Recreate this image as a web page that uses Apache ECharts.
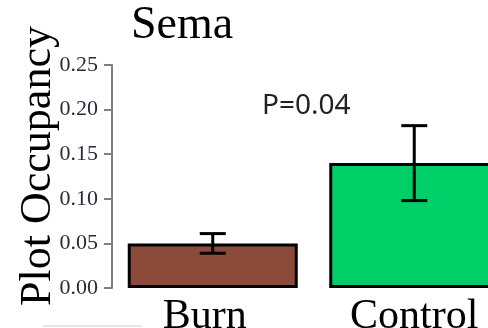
<!DOCTYPE html>
<html>
<head>
<meta charset="utf-8">
<script src="https://cdn.jsdelivr.net/npm/echarts@6/dist/echarts.min.js"></script>
<style>
  html, body { margin: 0; padding: 0; background: #fff; }
  #chart { width: 488px; height: 328px; }
</style>
</head>
<body>
<div id="chart"></div>
<script>
// Plot occupancy by treatment, mean with error
var categories = ['Burn', 'Control'];
var occupancy = [0.05, 0.14];
var errors = [0.011, 0.042];
var barColors = ['#8C4B3A', '#00CE66'];
var yTicks = [0, 0.05, 0.10, 0.15, 0.20, 0.25];
var titleText = 'Sema';
var yTitle = 'Plot Occupancy';
var pLabel = 'P=0.04';

var serif = '"Liberation Serif", "Times New Roman", serif';

var chart = echarts.init(document.getElementById('chart'), null, { renderer: 'canvas' });

var barData = occupancy.map(function (v, i) {
  return { value: v, itemStyle: { color: barColors[i] } };
});
var errData = occupancy.map(function (v, i) {
  return [i, v - errors[i], v + errors[i]];
});

chart.setOption({
  animation: false,
  backgroundColor: '#ffffff',
  title: {
    text: titleText,
    left: 131,
    top: 3,
    padding: 0,
    textStyle: { fontFamily: serif, fontSize: 46, fontWeight: 'normal', color: '#000' }
  },
  grid: {
    left: 112, right: -27, top: 65, bottom: 40,
    containLabel: false, outerBoundsMode: 'none'
  },
  xAxis: {
    type: 'category',
    data: [
      { value: categories[0], textStyle: { padding: [0, 16, 0, 0] } },
      categories[1]
    ],
    axisLine: { show: false },
    axisTick: { show: false },
    axisLabel: {
      fontFamily: serif, fontSize: 42, color: '#000', margin: 8
    }
  },
  yAxis: {
    type: 'value',
    min: yTicks[0],
    max: yTicks[yTicks.length - 1],
    interval: 0.05,
    axisLine: { show: true, lineStyle: { color: '#7f7f7f', width: 2 } },
    axisTick: { show: true, length: 8, lineStyle: { color: '#7f7f7f', width: 2 } },
    splitLine: { show: false },
    axisLabel: {
      fontFamily: serif, fontSize: 22, color: '#2a2b3a', margin: 14,
      formatter: function (v) { return v.toFixed(2); }
    }
  },
  graphic: [
    {
      type: 'text',
      x: 38, y: 166,
      rotation: Math.PI / 2,
      style: {
        text: yTitle, font: '44px ' + serif, fill: '#000',
        textAlign: 'center', textVerticalAlign: 'middle'
      }
    },
    {
      type: 'text',
      x: 262, y: 106,
      style: {
        text: pLabel, font: '28px "Noto Sans", "Open Sans", sans-serif', fill: '#222',
        textAlign: 'left', textVerticalAlign: 'middle'
      }
    },
    {
      type: 'line',
      shape: { x1: 43, y1: 326, x2: 142, y2: 326 },
      style: { stroke: '#cfcfcf', lineWidth: 1 }
    }
  ],
  series: [
    {
      type: 'bar',
      data: barData,
      barWidth: 170,
      itemStyle: { borderColor: '#000', borderWidth: 3 },
      z: 2
    },
    {
      type: 'custom',
      data: errData,
      z: 5,
      renderItem: function (params, api) {
        var lo = api.coord([api.value(0), api.value(1)]);
        var hi = api.coord([api.value(0), api.value(2)]);
        var half = 13;
        var st = { stroke: '#000', lineWidth: 3 };
        return {
          type: 'group',
          children: [
            { type: 'line', shape: { x1: hi[0], y1: hi[1], x2: lo[0], y2: lo[1] }, style: st },
            { type: 'line', shape: { x1: hi[0] - half, y1: hi[1], x2: hi[0] + half, y2: hi[1] }, style: st },
            { type: 'line', shape: { x1: lo[0] - half, y1: lo[1], x2: lo[0] + half, y2: lo[1] }, style: st }
          ]
        };
      }
    }
  ]
});
</script>
</body>
</html>
